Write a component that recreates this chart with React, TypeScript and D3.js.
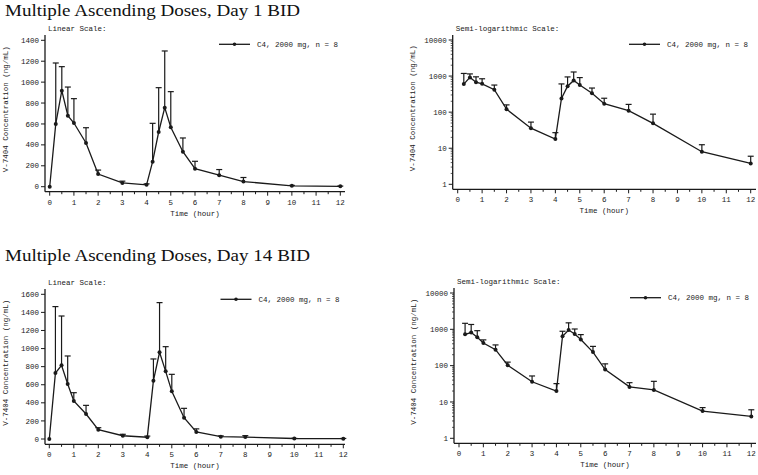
import React from "react";
import * as d3 from "d3";

const times = [0, 0.25, 0.5, 0.75, 1, 1.5, 2, 3, 4, 4.25, 4.5, 4.75, 5, 5.5, 6, 7, 8, 10, 12];
const day1Mean = [0, 600, 918, 679, 609, 418, 121, 36, 18, 239, 523, 756, 568, 335, 172, 110, 49, 8, 3.8];
const day1Upper = [0, 1183, 1148, 953, 842, 564, 159, 53, 27, 606, 947, 1298, 909, 466, 243, 164, 88, 12.5, 6];
const day14Mean = [0, 730, 815, 608, 420, 276, 103, 36, 20, 645, 958, 748, 527, 236, 78, 26, 21.5, 5.6, 4];
const day14Upper = [0, 1464, 1360, 918, 512, 372, 125, 52, 32, 885, 1508, 1021, 715, 339, 112, 34, 37, 7, 6.1];

const xTicks = [0, 1, 2, 3, 4, 5, 6, 7, 8, 9, 10, 11, 12];
const linTicks1 = [0, 200, 400, 600, 800, 1000, 1200, 1400];
const linTicks14 = [0, 200, 400, 600, 800, 1000, 1200, 1400, 1600];
const logTicks = [1, 10, 100, 1000, 10000];
const titles = ["Multiple Ascending Doses, Day 1 BID", "Multiple Ascending Doses, Day 14 BID"];
const legendLabel = "C4, 2000 mg, n = 8";
const yLabel = "V-7404 Concentration (ng/mL)";
const xLabel = "Time (hour)";

const MONO = "'Liberation Mono', 'DejaVu Sans Mono', monospace";
const SERIF = "'Liberation Serif', 'Times New Roman', serif";
const INK = "#1a1a1a";

type PanelProps = {
  kind: "lin" | "log";
  mean: number[];
  upper: number[];
  axX: number;
  axRight: number;
  axTop: number;
  axBottom: number;
  x0: number;
  x12: number;
  yLo: number;
  yHi: number;
  yTicks: number[];
  yLabelX: number;
  legX1: number;
  legY: number;
  scaleTitle: string;
};

function Panel(p: PanelProps) {
  const x = d3.scaleLinear().domain([0, 12]).range([p.x0, p.x12]);
  const dom = [p.yTicks[0], p.yTicks[p.yTicks.length - 1]];
  const y: any = p.kind === "lin"
    ? d3.scaleLinear().domain(dom).range([p.yLo, p.yHi])
    : d3.scaleLog().domain(dom).range([p.yLo, p.yHi]);
  const idx = times.map((_, i) => i).filter((i) => p.kind === "lin" || p.mean[i] > 0);
  const line = d3.line<number>().x((i) => x(times[i])).y((i) => y(p.mean[i]));
  const minorX = d3.range(0.5, 12, 1);
  const minorLog: number[] = [];
  if (p.kind === "log") {
    for (let e = 0; e < 4; e++) for (let k = 2; k <= 9; k++) minorLog.push(k * Math.pow(10, e));
  }
  const cx = (p.axX + p.axRight) / 2;
  const cy = (p.axTop + p.axBottom) / 2;
  return (
    <g>
      <text x={p.axX + 3} y={p.axTop - 4} fontFamily={MONO} fontSize={7.5} fill={INK}>{p.scaleTitle}</text>
      <line x1={p.axX} x2={p.axX} y1={p.axTop} y2={p.axBottom} stroke={INK} strokeWidth={1.3} />
      <line x1={p.axX} x2={p.axRight} y1={p.axBottom} y2={p.axBottom} stroke={INK} strokeWidth={1.3} />
      {xTicks.map((t) => (
        <g key={"xt" + t}>
          <line x1={x(t)} x2={x(t)} y1={p.axBottom} y2={p.axBottom + 4} stroke={INK} strokeWidth={1} />
          <text x={x(t)} y={p.axBottom + 13} textAnchor="middle" fontFamily={MONO} fontSize={7.5} fill={INK}>{t}</text>
        </g>
      ))}
      {minorX.map((t) => (
        <line key={"xm" + t} x1={x(t)} x2={x(t)} y1={p.axBottom} y2={p.axBottom + 2.5} stroke={INK} strokeWidth={1} />
      ))}
      {p.yTicks.map((t) => (
        <g key={"yt" + t}>
          <line x1={p.axX - 4} x2={p.axX} y1={y(t)} y2={y(t)} stroke={INK} strokeWidth={1} />
          <text x={p.axX - 6} y={y(t) + 2.6} textAnchor="end" fontFamily={MONO} fontSize={7.5} fill={INK}>{t}</text>
        </g>
      ))}
      {minorLog.map((t) => (
        <line key={"ym" + t} x1={p.axX - 2} x2={p.axX} y1={y(t)} y2={y(t)} stroke={INK} strokeWidth={0.7} />
      ))}
      <text x={cx} y={p.axBottom + 24} textAnchor="middle" fontFamily={MONO} fontSize={7.5} fill={INK}>{xLabel}</text>
      <text transform={`translate(${p.yLabelX},${cy - 4}) rotate(-90)`} textAnchor="middle" fontFamily={MONO} fontSize={7.5} fill={INK}>{yLabel}</text>
      {idx.filter((i) => p.upper[i] > p.mean[i]).map((i) => (
        <g key={"e" + i}>
          <line x1={x(times[i])} x2={x(times[i])} y1={y(p.mean[i])} y2={y(p.upper[i])} stroke={INK} strokeWidth={1.2} />
          <line x1={x(times[i]) - 3} x2={x(times[i]) + 3} y1={y(p.upper[i])} y2={y(p.upper[i])} stroke={INK} strokeWidth={1.2} />
        </g>
      ))}
      <path d={line(idx) || ""} fill="none" stroke={INK} strokeWidth={1.3} />
      {idx.map((i) => (
        <circle key={"c" + i} cx={x(times[i])} cy={y(p.mean[i])} r={2} fill={INK} />
      ))}
      <line x1={p.legX1} x2={p.legX1 + 31} y1={p.legY} y2={p.legY} stroke={INK} strokeWidth={1.3} />
      <circle cx={p.legX1 + 15.5} cy={p.legY} r={1.8} fill={INK} />
      <text x={p.legX1 + 38} y={p.legY + 2.6} fontFamily={MONO} fontSize={7.5} fill={INK}>{legendLabel}</text>
    </g>
  );
}

export default function App() {
  return (
    <svg width={758} height={475} style={{ position: "absolute", left: 0, top: 0, background: "#fff" }}>
      <rect width={758} height={475} fill="#fff" />
      <text x={5} y={16} fontFamily={SERIF} fontSize={17.5} textLength={295} lengthAdjust="spacingAndGlyphs" fill="#111">{titles[0]}</text>
      <text x={5} y={261} fontFamily={SERIF} fontSize={17.5} textLength={305} lengthAdjust="spacingAndGlyphs" fill="#111">{titles[1]}</text>
      <Panel kind="lin" mean={day1Mean} upper={day1Upper} axX={45} axRight={345} axTop={35} axBottom={191.7}
        x0={49.7} x12={340.3} yLo={186.7} yHi={40.3} yTicks={linTicks1} yLabelX={8} legX1={219} legY={44.3} scaleTitle="Linear Scale:" />
      <Panel kind="log" mean={day1Mean} upper={day1Upper} axX={452.7} axRight={756} axTop={35} axBottom={189.3}
        x0={457.7} x12={750.7} yLo={184.3} yHi={40} yTicks={logTicks} yLabelX={415} legX1={629} legY={44.3} scaleTitle="Semi-logarithmic Scale:" />
      <Panel kind="lin" mean={day14Mean} upper={day14Upper} axX={45} axRight={345} axTop={289} axBottom={444.3}
        x0={49.3} x12={343.3} yLo={439} yHi={294.3} yTicks={linTicks14} yLabelX={8} legX1={220.5} legY={299.3} scaleTitle="Linear Scale:" />
      <Panel kind="log" mean={day14Mean} upper={day14Upper} axX={454} axRight={756} axTop={288} axBottom={443.3}
        x0={459} x12={751.3} yLo={438.3} yHi={293} yTicks={logTicks} yLabelX={416} legX1={630} legY={297.7} scaleTitle="Semi-logarithmic Scale:" />
    </svg>
  );
}
